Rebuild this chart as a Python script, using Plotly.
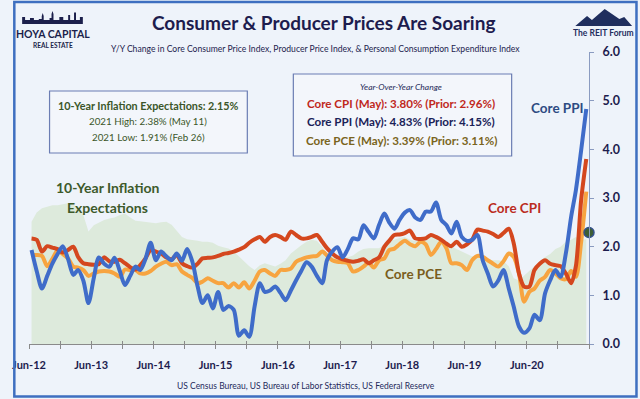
import plotly.graph_objects as go
import pandas as pd

# ------------------------------------------------------------------ data
month_start = "2012-06-01"      # first monthly observation (Jun-12)
n_months = 108                  # through May-21

core_ppi = [
    1.93, 1.50, 1.14, 1.40, 1.65, 1.85, 2.01, 1.75, 1.42, 1.52,
    1.30, 0.84, 1.35, 1.78, 1.65, 1.59, 1.77, 1.50, 1.21, 1.40,
    1.59, 1.52, 1.75, 2.08, 1.72, 1.90, 1.80, 1.72, 1.86, 1.71,
    1.95, 1.69, 1.18, 0.84, 1.00, 0.73, 1.07, 0.70, 0.78, 0.70,
    0.17, 0.28, 0.15, 0.77, 1.25, 1.07, 1.10, 1.18, 1.05, 0.90,
    1.10, 1.31, 1.50, 1.68, 1.59, 1.40, 1.25, 1.72, 1.90, 1.99,
    1.78, 1.95, 2.17, 2.15, 2.44, 2.30, 2.17, 2.45, 2.68, 2.50,
    2.37, 2.55, 2.70, 2.75, 2.60, 2.55, 2.72, 2.72, 2.91, 2.55,
    2.44, 2.27, 2.51, 2.20, 2.12, 2.14, 2.24, 1.72, 1.45, 1.18,
    1.30, 1.52, 1.14, 0.77, 0.36, 0.23, 0.32, 0.60, 0.49, 1.04,
    1.31, 1.52, 1.38, 1.86, 2.61, 3.16, 3.98, 4.83,
]
core_cpi = [
    2.17, 2.14, 1.90, 2.01, 1.98, 1.95, 1.88, 1.93, 2.00, 1.79,
    1.66, 1.64, 1.63, 1.64, 1.78, 1.70, 1.69, 1.73, 1.66, 1.58,
    1.53, 1.62, 1.76, 1.93, 1.90, 1.86, 1.78, 1.74, 1.83, 1.66,
    1.60, 1.57, 1.65, 1.76, 1.77, 1.78, 1.81, 1.85, 1.87, 1.90,
    1.94, 1.99, 2.08, 2.15, 2.20, 2.10, 2.20, 2.24, 2.20, 2.14,
    2.31, 2.24, 2.17, 2.17, 2.20, 2.24, 2.10, 1.97, 1.86, 1.78,
    1.74, 1.71, 1.69, 1.71, 1.74, 1.66, 1.72, 1.78, 2.00, 2.12,
    2.24, 2.25, 2.28, 2.33, 2.17, 2.16, 2.17, 2.24, 2.20, 2.14,
    2.06, 2.01, 2.10, 2.00, 2.05, 2.14, 2.35, 2.33, 2.31, 2.26,
    2.20, 2.28, 2.37, 2.07, 1.45, 1.18, 1.18, 1.52, 1.65, 1.72,
    1.65, 1.62, 1.60, 1.45, 1.25, 1.60, 2.96, 3.80,
]
core_pce = [
    1.83, 1.83, 1.81, 1.60, 1.75, 1.92, 1.85, 1.76, 1.59, 1.57,
    1.52, 1.40, 1.45, 1.49, 1.50, 1.49, 1.45, 1.38, 1.53, 1.52,
    1.52, 1.45, 1.45, 1.50, 1.59, 1.65, 1.69, 1.62, 1.64, 1.49,
    1.42, 1.36, 1.25, 1.28, 1.35, 1.30, 1.25, 1.25, 1.16, 1.25,
    1.16, 1.27, 1.14, 1.30, 1.49, 1.52, 1.45, 1.40, 1.52, 1.52,
    1.55, 1.69, 1.74, 1.78, 1.80, 1.81, 1.90, 1.82, 1.72, 1.69,
    1.68, 1.66, 1.49, 1.52, 1.59, 1.67, 1.57, 1.72, 1.76, 1.93,
    1.96, 2.05, 2.12, 2.05, 2.01, 2.10, 2.05, 1.83, 1.95, 2.10,
    1.96, 1.66, 1.66, 1.62, 1.52, 1.72, 1.81, 1.79, 1.72, 1.65,
    1.59, 1.70, 1.86, 1.79, 1.45, 0.87, 1.07, 1.14, 1.30, 1.38,
    1.52, 1.45, 1.35, 1.33, 1.50, 1.38, 2.10, 3.13,
]
inflation_expect_10y = [
    2.51, 2.70, 2.79, 2.82, 2.85, 2.85, 2.87, 2.89, 2.86, 2.82,
    2.65, 2.31, 2.44, 2.50, 2.55, 2.58, 2.60, 2.65, 2.68, 2.60,
    2.53, 2.52, 2.51, 2.50, 2.48, 2.50, 2.51, 2.45, 2.32, 2.20,
    2.15, 2.14, 2.12, 2.10, 2.10, 2.08, 2.02, 1.99, 1.96, 1.90,
    1.80, 1.70, 1.60, 1.52, 1.62, 1.66, 1.62, 1.59, 1.65, 1.72,
    1.86, 1.95, 2.03, 2.10, 2.14, 2.12, 2.00, 1.86, 1.85, 1.80,
    1.78, 1.78, 1.82, 1.90, 1.95, 1.97, 1.97, 1.97, 2.05, 2.14,
    2.14, 2.18, 2.20, 2.14, 2.12, 2.14, 2.16, 2.24, 2.20, 2.10,
    2.05, 2.00, 1.95, 1.90, 1.85, 1.80, 1.78, 1.76, 1.74, 1.72,
    1.72, 1.70, 1.60, 1.35, 1.31, 1.40, 1.50, 1.60, 1.70, 1.79,
    1.85, 1.95, 2.00, 2.10, 2.14, 2.20, 2.14, 2.15,
]
latest_expect_date = "2021-06-01"
latest_expect_value = 2.29

tick_dates = [
    "2012-06-01", "2012-12-01", "2013-06-01", "2013-12-01", "2014-06-01",
    "2014-12-01", "2015-06-01", "2015-12-01", "2016-06-01", "2016-12-01",
    "2017-06-01", "2017-12-01", "2018-06-01", "2018-12-01", "2019-06-01",
    "2019-12-01", "2020-06-01", "2020-12-01", "2021-06-01",
]
tick_labels = [
    "Jun-12", "", "Jun-13", "", "Jun-14", "", "Jun-15", "", "Jun-16", "",
    "Jun-17", "", "Jun-18", "", "Jun-19", "", "Jun-20", "", "",
]
y_ticks = [0, 1, 2, 3, 4, 5, 6]

# observations plotted mid-month (category centred)
months = pd.date_range(month_start, periods=n_months, freq="MS") + pd.Timedelta(days=15)

# ------------------------------------------------------------------ style
NAVY = "#1D1C4E"
LATO = "Lato, Roboto, sans-serif"
BG = "#EEF3FA"

L, R, T, B = 17, 589, 52, 344   # plot area in pixels


def fx(x):
    return (x - L) / (R - L)


def fy(y):
    return (B - y) / (B - T)


def path(points):
    return "M " + " L ".join(f"{fx(a):.5f},{fy(b):.5f}" for a, b in points) + " Z"


fig = go.Figure()

fig.add_trace(go.Scatter(
    x=months, y=inflation_expect_10y, mode="lines", fill="tozeroy",
    line=dict(width=0, color="#DDEADC"), fillcolor="#DDEADC",
    hoverinfo="skip", showlegend=False))

fig.add_trace(go.Scatter(
    x=months, y=core_pce, mode="lines",
    line=dict(color="#F7A440", width=4, shape="spline", smoothing=0.8),
    showlegend=False))
fig.add_trace(go.Scatter(
    x=months, y=core_cpi, mode="lines",
    line=dict(color="#D4471E", width=4, shape="spline", smoothing=0.8),
    showlegend=False))
fig.add_trace(go.Scatter(
    x=months, y=core_ppi, mode="lines",
    line=dict(color="#3F6CC9", width=4, shape="spline", smoothing=0.8),
    showlegend=False))

fig.add_trace(go.Scatter(
    x=[latest_expect_date], y=[latest_expect_value], mode="markers",
    marker=dict(size=10, color="#3E5E35", line=dict(color="#34508A", width=1.5)),
    cliponaxis=False, showlegend=False))

# helper trace so the overlaid tick axis is drawn
fig.add_trace(go.Scatter(x=[months[0]], y=[None], xaxis="x2", mode="lines",
                         showlegend=False, hoverinfo="skip"))

fig.update_layout(
    width=640, height=399,
    margin=dict(l=L, r=640 - R, t=T, b=399 - B, pad=0),
    paper_bgcolor=BG, plot_bgcolor=BG,
    xaxis=dict(
        type="date", range=["2012-06-01", "2021-06-01"],
        tickmode="array", tickvals=tick_dates, ticktext=tick_labels,
        ticks="outside", ticklen=4, tickcolor="#8A8A8A", tickwidth=1,
        showline=True, linecolor="#8A8A8A", linewidth=1,
        showgrid=False, zeroline=False, ticklabelstandoff=7,
        tickfont=dict(family=LATO, size=11, color=NAVY, weight="bold"),
    ),
    xaxis2=dict(
        type="date", range=["2012-06-01", "2021-06-01"], overlaying="x",
        anchor="y", side="bottom",
        tickmode="array", tickvals=tick_dates,
        ticks="inside", ticklen=3, tickcolor="#8A8A8A", tickwidth=1,
        showticklabels=False, showline=False, showgrid=False, zeroline=False,
    ),
    yaxis=dict(
        side="right", range=[0, 6], tickmode="array", tickvals=y_ticks,
        tickformat=".1f", ticksuffix="%",
        ticks="outside", ticklen=4, tickcolor="#8A9BC0",
        showline=True, linecolor="#8A9BC0", linewidth=1,
        showgrid=False, zeroline=False, ticklabelstandoff=6,
        tickfont=dict(family=LATO, size=12.5, color=NAVY, weight="bold"),
    ),
)


def label(text, x, y, size, color, family=LATO, xanchor="center"):
    fig.add_annotation(text=text, x=fx(x), y=fy(y), xref="paper", yref="paper",
                       showarrow=False, xanchor=xanchor, yanchor="middle",
                       font=dict(size=size, color=color, family=family))


# header
label("<b>Consumer &amp; Producer Prices Are Soaring</b>", 318, 23, 19, NAVY)
label("Y/Y Change in Core Consumer Price Index, Producer Price Index, &amp; "
      "Personal Consumption Expenditure Index", 310, 49, 8.6, NAVY)
label("US Census Bureau, US Bureau of Labor Statistics, US Federal Reserve",
      300, 386, 8.5, "#1E2A5A")

# left info box
fig.add_shape(type="rect", xref="paper", yref="paper",
              x0=fx(38), x1=fx(240), y0=fy(153), y1=fy(91),
              line=dict(color="#6B7DB3", width=1.2), fillcolor="#F3F6FB", layer="above")
GREEN_TXT = "#3B5629"
label("<b>10-Year Inflation Expectations: 2.15%</b>", 139, 105.5, 10.8, GREEN_TXT)
label("2021 High: 2.38% (May 11)", 139, 121, 9.8, GREEN_TXT)
label("2021 Low: 1.91% (Feb 26)", 139, 137, 9.8, GREEN_TXT)

# right info box
fig.add_shape(type="rect", xref="paper", yref="paper",
              x0=fx(287), x1=fx(510), y0=fy(156), y1=fy(74),
              line=dict(color="#6B7DB3", width=1.2), fillcolor="#F3F6FB", layer="above")
label("<i>Year-Over-Year Change</i>", 397, 86.5, 8.5, "#1E2A5A")
label("<b>Core CPI (May): 3.80% (Prior: 2.96%)</b>", 397, 103, 11.6, "#C0281C")
label("<b>Core PPI (May): 4.83% (Prior: 4.15%)</b>", 397, 121.5, 11.6, "#1A2258")
label("<b>Core PCE (May): 3.39% (Prior: 3.11%)</b>", 397, 140, 11.6, "#7A6420")

# series labels
label("<b>10-Year Inflation</b>", 97, 187, 14, "#3D5A2B")
label("<b>Expectations</b>", 97, 207, 14, "#3D5A2B")
label("<b>Core PPI</b>", 557, 108, 13.5, "#2D4B82")
label("<b>Core CPI</b>", 513, 208, 13.5, "#BB2C1E")
label("<b>Core PCE</b>", 410, 274, 13.5, "#7A5E1C")

# Hoya Capital logo (skyline + text)
skyline = [(10, 24), (10, 17), (13, 17), (13, 20), (18, 20), (18, 18), (22, 18),
           (22, 20), (27, 20), (27, 19), (30, 19), (30, 16), (31, 13), (32, 16),
           (32, 20), (38, 20), (38, 18), (40, 18), (40, 14), (41, 11), (42, 14),
           (42, 20), (48, 20), (48, 17), (52, 17), (52, 20), (57, 20), (57, 15),
           (59, 15), (59, 20), (63, 20), (63, 13), (64, 12), (65, 13), (65, 20),
           (69, 20), (69, 17), (72, 17), (72, 24)]
fig.add_shape(type="path", xref="paper", yref="paper", path=path(skyline),
              fillcolor="#1B1F4B", line=dict(width=0), layer="above")
label("<b>HOYA CAPITAL</b>", 42, 34, 10.5, "#1B1F4B")
label("<b>REAL ESTATE</b>", 42, 46, 6.5, "#1B1F4B")

# The REIT Forum logo
mountain = [(575, 26), (587, 16), (592, 20), (605, 9), (620, 19), (625, 17), (633, 26)]
fig.add_shape(type="path", xref="paper", yref="paper", path=path(mountain),
              fillcolor="#1F2E5E", line=dict(width=0), layer="above")
label("<b>The REIT Forum</b>", 604, 33, 8.5, "#1F2E5E")

# outer frame
fig.add_shape(type="rect", xref="paper", yref="paper",
              x0=fx(2), x1=fx(637.5), y0=fy(396.5), y1=fy(2),
              line=dict(color="#3E6FC0", width=2.5), fillcolor="rgba(0,0,0,0)",
              layer="above")

fig.write_html("out.html", config={"displayModeBar": False},
               post_script="document.body.style.margin='0px';")
